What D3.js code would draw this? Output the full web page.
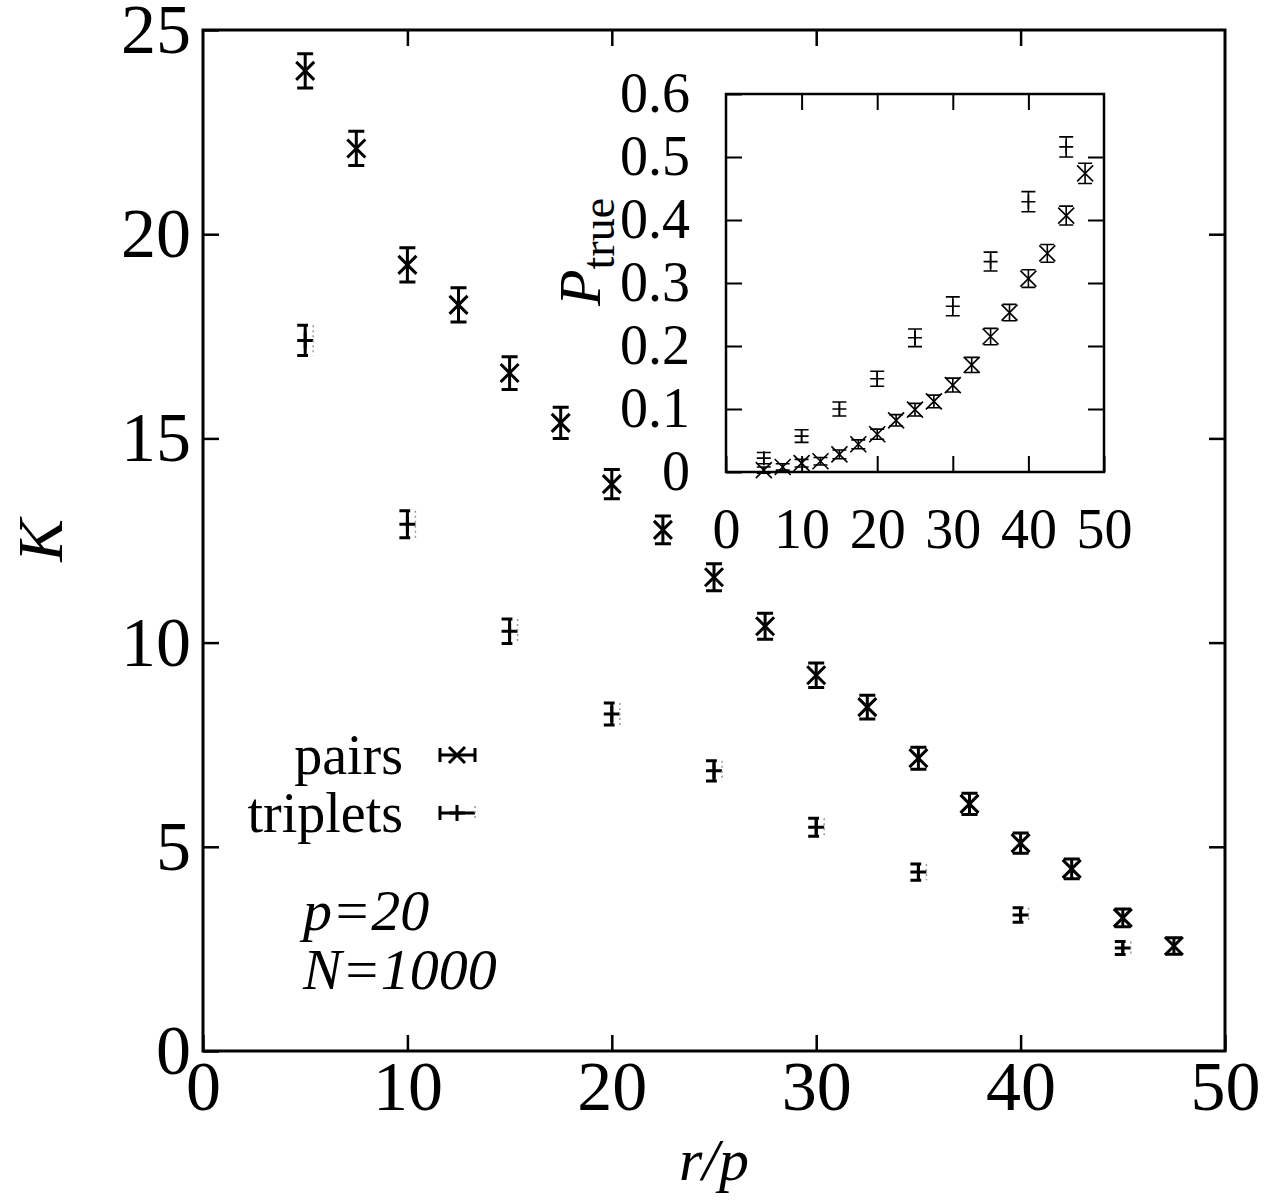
<!DOCTYPE html>
<html>
<head>
<meta charset="utf-8">
<script src="https://cdn.jsdelivr.net/npm/d3@7"></script>
<style>
body { margin: 0; background: #fff; }
svg { display: block; font-family: "Liberation Serif", "Times New Roman", serif; }
</style>
</head>
<body>
<script>
// main plot: K vs r/p
var pairsX = [5, 7.5, 10, 12.5, 15, 17.5, 20, 22.5, 25, 27.5, 30, 32.5, 35, 37.5, 40, 42.5, 45, 47.5];
var pairsK = [24.0, 22.1, 19.25, 18.27, 16.6, 15.38, 13.88, 12.76, 11.6, 10.4, 9.2, 8.42, 7.17, 6.05, 5.09, 4.46, 3.26, 2.57];
var pairsKErr = [0.42, 0.42, 0.42, 0.42, 0.4, 0.38, 0.36, 0.34, 0.33, 0.32, 0.3, 0.29, 0.27, 0.26, 0.25, 0.24, 0.22, 0.2];
var tripX = [5, 10, 15, 20, 25, 30, 35, 40, 45];
var tripK = [17.4, 12.9, 10.28, 8.25, 6.86, 5.48, 4.38, 3.33, 2.52];
var tripKErr = [0.37, 0.33, 0.3, 0.27, 0.25, 0.22, 0.2, 0.18, 0.16];

// inset: P_true vs r/p
var pairsP = [0.003, 0.008, 0.014, 0.017, 0.028, 0.044, 0.060, 0.082, 0.099, 0.112, 0.138, 0.170, 0.215, 0.253, 0.307, 0.347, 0.407, 0.474];
var pairsPErr = [0.005, 0.005, 0.006, 0.006, 0.007, 0.007, 0.008, 0.009, 0.01, 0.01, 0.011, 0.012, 0.013, 0.013, 0.014, 0.014, 0.015, 0.016];
var tripP = [0.022, 0.057, 0.100, 0.148, 0.213, 0.263, 0.334, 0.429, 0.516];
var tripPErr = [0.009, 0.01, 0.011, 0.012, 0.014, 0.015, 0.015, 0.016, 0.016];

var xTicks = [0, 10, 20, 30, 40, 50];
var kTicks = [0, 5, 10, 15, 20, 25];
var pTicks = [0, 0.1, 0.2, 0.3, 0.4, 0.5, 0.6];

var W = 1279, H = 1200;
var svg = d3.select('body').append('svg')
	.attr('width', W)
	.attr('height', H);

var x = d3.scaleLinear().domain([0, 50]).range([203, 1225]);
var y = d3.scaleLinear().domain([0, 25]).range([1051, 30]);

var xi = d3.scaleLinear().domain([0, 50]).range([726, 1104]);
var yi = d3.scaleLinear().domain([0, 0.6]).range([472, 94]);

function styleAxis(g, size, width) {
	g.select('.domain').remove();
	g.selectAll('.tick line').attr('stroke', '#000').attr('stroke-width', width);
	g.selectAll('.tick text')
		.attr('fill', '#000')
		.style('font-family', '"Liberation Serif", serif')
		.style('font-size', size + 'px');
}

// main axes
svg.append('g')
	.attr('transform', 'translate(0,' + y(0) + ')')
	.call(d3.axisBottom(x).tickValues(xTicks).tickSizeInner(-16).tickSizeOuter(0).tickPadding(9))
	.call(styleAxis, 70, 2.5);
svg.append('g')
	.attr('transform', 'translate(' + x(0) + ',0)')
	.call(d3.axisLeft(y).tickValues(kTicks).tickSizeInner(-16).tickSizeOuter(0).tickPadding(12))
	.call(styleAxis, 70, 2.5);
svg.append('g')
	.attr('transform', 'translate(0,' + y(25) + ')')
	.call(d3.axisTop(x).tickValues(xTicks.slice(1, -1)).tickSizeInner(-16).tickSizeOuter(0).tickFormat(''))
	.call(styleAxis, 70, 2.5);
svg.append('g')
	.attr('transform', 'translate(' + x(50) + ',0)')
	.call(d3.axisRight(y).tickValues(kTicks.slice(1, -1)).tickSizeInner(-16).tickSizeOuter(0).tickFormat(''))
	.call(styleAxis, 70, 2.5);

svg.append('rect')
	.attr('x', x(0)).attr('y', y(25))
	.attr('width', x(50) - x(0)).attr('height', y(0) - y(25))
	.attr('fill', 'none').attr('stroke', '#000').attr('stroke-width', 3);

svg.append('text')
	.attr('transform', 'translate(' + (x(25)) + ',1180)')
	.attr('text-anchor', 'middle')
	.style('font-style', 'italic').style('font-size', '60px')
	.text('r/p');

svg.append('text')
	.attr('transform', 'translate(62,' + y(12.5) + ') rotate(-90)')
	.attr('text-anchor', 'middle')
	.style('font-style', 'italic').style('font-size', '64px')
	.text('K');

// markers
function crossPath(s) {
	return 'M' + (-s) + ',' + (-s) + 'L' + s + ',' + s + 'M' + (-s) + ',' + s + 'L' + s + ',' + (-s);
}
function plusPath(s) {
	return 'M' + (-s) + ',0L' + s + ',0M0,' + (-s) + 'L0,' + s;
}

function drawErr(g, xs, vs, es, sx, sy, cap, lw, marker, ms, dashedRight) {
	var pts = xs.map(function(d, i) { return { x: d, v: vs[i], e: es[i] }; });
	var grp = g.append('g')
		.attr('stroke', '#000').attr('stroke-width', lw).attr('fill', 'none');
	var pt = grp.selectAll('g.pt')
		.data(pts)
		.enter().append('g')
		.attr('class', 'pt')
		.attr('transform', function(d) { return 'translate(' + sx(d.x) + ',' + sy(d.v) + ')'; });
	pt.append('path')
		.attr('d', function(d) {
			var top = sy(d.v + d.e) - sy(d.v);
			var bot = sy(d.v - d.e) - sy(d.v);
			var right = dashedRight ? cap * 0.35 : cap;
			return 'M0,' + top + 'L0,' + bot +
				'M' + (-cap) + ',' + top + 'L' + right + ',' + top +
				'M' + (-cap) + ',' + bot + 'L' + right + ',' + bot;
		});
	pt.append('path').attr('d', marker === 'x' ? crossPath(ms) : plusPath(ms));
	if (dashedRight) {
		pt.append('path')
			.attr('d', function(d) {
				var top = sy(d.v + d.e) - sy(d.v);
				var bot = sy(d.v - d.e) - sy(d.v);
				return 'M' + cap + ',' + top + 'L' + cap + ',' + bot;
			})
			.attr('stroke', '#999').attr('stroke-width', 1.5).attr('stroke-dasharray', '2,3');
	}
}

drawErr(svg, pairsX, pairsK, pairsKErr, x, y, 8, 3, 'x', 9, false);
drawErr(svg, tripX, tripK, tripKErr, x, y, 8, 3, '+', 8, true);

// legend
var leg = svg.append('g').style('font-size', '56px');
leg.append('text').attr('x', 403).attr('y', 774).attr('text-anchor', 'end').text('pairs');
leg.append('text').attr('x', 403).attr('y', 832).attr('text-anchor', 'end').text('triplets');
var lg = leg.append('g').attr('stroke', '#000').attr('stroke-width', 3).attr('fill', 'none');
lg.append('path').attr('d', 'M440,755L475,755M440,748L440,762M475,748L475,762');
lg.append('path').attr('d', crossPath(8)).attr('transform', 'translate(457,755)');
lg.append('path').attr('d', 'M440,813L475,813M440,806L440,820');
lg.append('path').attr('d', plusPath(8)).attr('transform', 'translate(457,813)');
lg.append('path').attr('d', 'M475,806L475,820').attr('stroke', '#999').attr('stroke-width', 1.5).attr('stroke-dasharray', '2,3');

// annotation
var ann = svg.append('g').style('font-size', '58px').style('font-style', 'italic');
ann.append('text').attr('x', 303).attr('y', 930).text('p=20');
ann.append('text').attr('x', 303).attr('y', 989).text('N=1000');

// inset
var inset = svg.append('g');
inset.append('rect')
	.attr('x', xi(0)).attr('y', yi(0.6))
	.attr('width', xi(50) - xi(0)).attr('height', yi(0) - yi(0.6))
	.attr('fill', '#fff');
inset.append('g')
	.attr('transform', 'translate(0,' + yi(0) + ')')
	.call(d3.axisBottom(xi).tickValues(xTicks).tickSizeInner(-16).tickSizeOuter(0).tickPadding(36))
	.call(styleAxis, 56, 2);
inset.append('g')
	.attr('transform', 'translate(' + xi(0) + ',0)')
	.call(d3.axisLeft(yi).tickValues(pTicks).tickSizeInner(-16).tickSizeOuter(0).tickPadding(36)
		.tickFormat(function(d) { return d === 0 ? '0' : d3.format('.1f')(d); }))
	.call(styleAxis, 56, 2);
inset.append('g')
	.attr('transform', 'translate(0,' + yi(0.6) + ')')
	.call(d3.axisTop(xi).tickValues(xTicks.slice(1, -1)).tickSizeInner(-16).tickSizeOuter(0).tickFormat(''))
	.call(styleAxis, 56, 2);
inset.append('g')
	.attr('transform', 'translate(' + xi(50) + ',0)')
	.call(d3.axisRight(yi).tickValues(pTicks.slice(1, -1)).tickSizeInner(-16).tickSizeOuter(0).tickFormat(''))
	.call(styleAxis, 56, 2);
inset.append('rect')
	.attr('x', xi(0)).attr('y', yi(0.6))
	.attr('width', xi(50) - xi(0)).attr('height', yi(0) - yi(0.6))
	.attr('fill', 'none').attr('stroke', '#000').attr('stroke-width', 2.5);

var pl = inset.append('text')
	.attr('transform', 'translate(600,252) rotate(-90)')
	.attr('text-anchor', 'middle')
	.style('font-size', '60px');
pl.append('tspan').style('font-style', 'italic').text('P');
pl.append('tspan').attr('dy', '0.3em').style('font-size', '46px').text('true');

drawErr(inset, pairsX, pairsP, pairsPErr, xi, yi, 7, 1.6, 'x', 8, false);
drawErr(inset, tripX, tripP, tripPErr, xi, yi, 7, 1.6, '+', 7, false);
</script>
</body>
</html>
